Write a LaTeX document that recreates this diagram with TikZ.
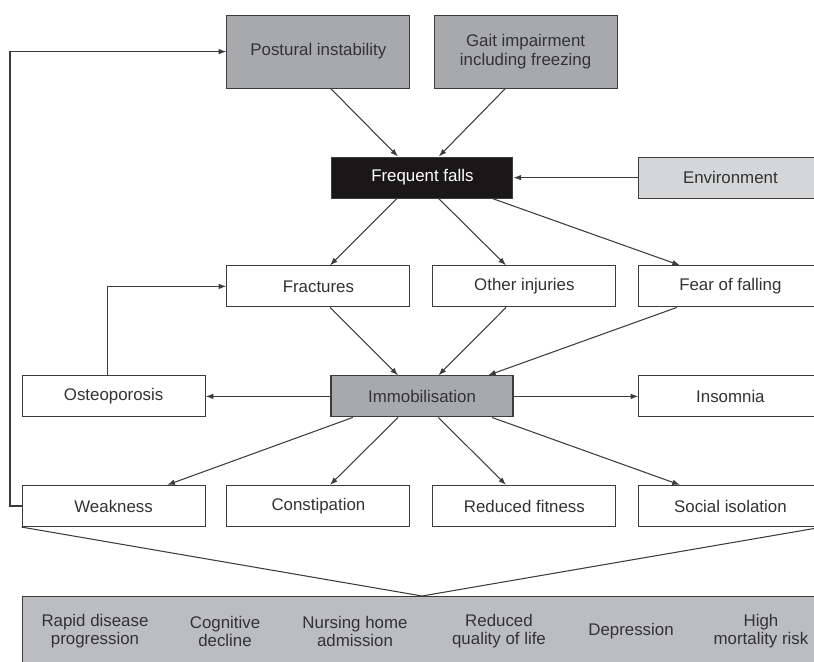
\documentclass[tikz,border=0pt]{standalone}
\usepackage{fontspec}
\setmainfont{Liberation Sans}
\usetikzlibrary{positioning, arrows.meta, calc}
\definecolor{fallInk}{HTML}{333333}
\definecolor{fallEdge}{HTML}{3C3C3C}
\definecolor{fallGrey}{HTML}{A8A9AC}
\definecolor{fallPale}{HTML}{D5D6D8}
\definecolor{fallMid}{HTML}{BCBDC0}
\definecolor{fallBlack}{HTML}{1A1718}
\tikzset{
  block/.style={rectangle, draw=fallEdge, line width=0.8pt, fill=white,
    text=fallInk, align=center, minimum width=4.575cm,
    minimum height=1.025cm, font=\fontsize{12}{13}\selectfont,
    inner sep=2pt},
  causeblock/.style={block, fill=fallGrey, minimum height=1.825cm},
  hubblock/.style={block, fill=fallGrey, minimum width=4.55cm},
  fallsblock/.style={block, fill=fallBlack, text=white,
    minimum width=4.525cm},
  outcome/.style={align=center, text=fallInk,
    font=\fontsize{12}{13}\selectfont, inner sep=0pt},
  arrowline/.style={-{Latex[length=5.5pt, width=4pt]}, line width=0.75pt,
    fallEdge},
  plainline/.style={line width=0.75pt, fallEdge},
}

\begin{document}
\begin{tikzpicture}
    \useasboundingbox (0,0) rectangle (20.35,-16.55);
    \clip (0,0) rectangle (20.35,-16.55);
    % causes
    \node[causeblock] (postural) at (7.96,-1.29) {Postural instability};
    \node[causeblock] (gait) at (13.14,-1.29)
      {Gait impairment\\ including freezing};
    \node[fallsblock] (falls) at (10.56,-4.44) {Frequent falls};
    \node[block, fill=fallPale] (env) at (18.26,-4.44) {Environment};
    % consequences of falls
    \node[block] (fractures) at (7.96,-7.16) {Fractures};
    \node[block] (other) at (13.11,-7.16) {Other injuries};
    \node[block] (fear) at (18.26,-7.16) {Fear of falling};
    \node[block] (osteo) at (2.84,-9.91) {Osteoporosis};
    \node[hubblock] (immob) at (10.55,-9.91) {Immobilisation};
    \node[block] (insomnia) at (18.26,-9.91) {Insomnia};
    \node[block] (weakness) at (2.84,-12.65) {Weakness};
    \node[block] (constip) at (7.96,-12.65) {Constipation};
    \node[block] (fitness) at (13.11,-12.65) {Reduced fitness};
    \node[block] (social) at (18.26,-12.65) {Social isolation};
    % outcomes
    \node[rectangle, draw=fallEdge, line width=0.8pt, fill=fallMid,
          anchor=north west, minimum width=20.5cm, minimum height=2.4cm]
      (outcomes) at (0.55,-14.9) {};
    \node[outcome] (rapid) at (2.375,-15.78) {Rapid disease\\ progression};
    \node[outcome] (cogn) at (5.625,-15.78) {Cognitive\\ decline};
    \node[outcome] (nursing) at (8.875,-15.78) {Nursing home\\ admission};
    \node[outcome] (quality) at (12.475,-15.78) {Reduced\\ quality of life};
    \node[outcome] (depr) at (15.775,-15.78) {Depression};
    \node[outcome] (mort) at (19.025,-15.78) {High\\ mortality risk};
    % arrows into falls
    \draw[arrowline] ([xshift=0.31cm]postural.south)
      -- ([xshift=-0.61cm]falls.north);
    \draw[arrowline] ([xshift=-0.51cm]gait.south)
      -- ([xshift=0.41cm]falls.north);
    \draw[arrowline] (env) -- (falls);
    % falls to injuries
    \draw[arrowline] ([xshift=-0.64cm]falls.south)
      -- ([xshift=0.29cm]fractures.north);
    \draw[arrowline] ([xshift=0.41cm]falls.south)
      -- ([xshift=-0.46cm]other.north);
    \draw[arrowline] ([xshift=1.76cm]falls.south)
      -- ([xshift=-1.26cm]fear.north);
    % injuries to immobilisation
    \draw[arrowline] ([xshift=0.29cm]fractures.south)
      -- ([xshift=-0.6cm]immob.north);
    \draw[arrowline] ([xshift=-0.46cm]other.south)
      -- ([xshift=0.41cm]immob.north);
    \draw[arrowline] ([xshift=-1.34cm]fear.south)
      -- ([xshift=1.65cm]immob.north);
    \draw[arrowline] (immob) -- (osteo);
    \draw[arrowline] (immob) -- (insomnia);
    % immobilisation to effects
    \draw[arrowline] ([xshift=-1.73cm]immob.south)
      -- ([xshift=1.34cm]weakness.north);
    \draw[arrowline] ([xshift=-0.6cm]immob.south)
      -- ([xshift=0.29cm]constip.north);
    \draw[arrowline] ([xshift=0.41cm]immob.south)
      -- ([xshift=-0.46cm]fitness.north);
    \draw[arrowline] ([xshift=1.75cm]immob.south)
      -- ([xshift=-1.26cm]social.north);
    % feedback loops
    \draw[arrowline] ([xshift=-0.16cm]osteo.north) |- (fractures.west);
    \coordinate (rail) at (0.25,-1.29);
    \draw[arrowline] (weakness.west) -| (rail) -- (postural.west);
    % funnel
    \coordinate (apex) at (10.55,-14.9);
    \draw[plainline] (weakness.south west) -- (apex) -- (social.south east);
\end{tikzpicture}
\end{document}
